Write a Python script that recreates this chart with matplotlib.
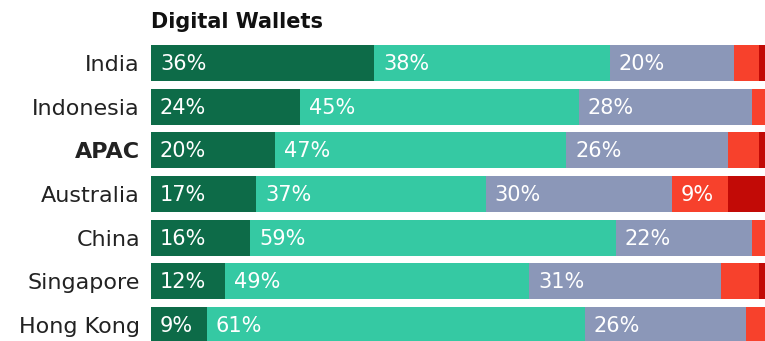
import matplotlib
matplotlib.use("Agg")
import matplotlib.pyplot as plt

categories = ["India", "Indonesia", "APAC", "Australia", "China", "Singapore", "Hong Kong"]
seg1 = [36, 24, 20, 17, 16, 12, 9]
seg2 = [38, 45, 47, 37, 59, 49, 61]
seg3 = [20, 28, 26, 30, 22, 31, 26]
seg4 = [4, 3, 5, 9, 3, 6, 4]
seg5 = [2, 0, 2, 7, 0, 2, 0]
title = "Digital Wallets"

colors = ["#0d6b48", "#35c9a3", "#8b97b8", "#f7412c", "#c20a06"]
series = [seg1, seg2, seg3, seg4, seg5]

W, H = 765, 341
fig = plt.figure(figsize=(W / 100, H / 100), dpi=100)
x0 = 151
pxper = 6.2
top, bot = 41, 341
ax = fig.add_axes([x0 / W, 1 - bot / H, (W - x0) / W, (bot - top) / H])
c0, sp = 63, 43.67
ax.set_xlim(0, (W - x0) / pxper)
ax.set_ylim((bot - c0) / sp, (top - c0) / sp)

ypos = list(range(len(categories)))
left = [0] * len(categories)
for si, (vals, col) in enumerate(zip(series, colors)):
    ax.barh(ypos, vals, left=left, height=0.82, color=col, edgecolor="none")
    for i, v in enumerate(vals):
        show = si < 3 or (si == 3 and v >= 8)
        if show and v > 0:
            ax.text(left[i] + 1.45, i + 0.02, f"{v}%", color="white", fontsize=15,
                    va="center", ha="left", family="DejaVu Sans")
    left = [l + v for l, v in zip(left, vals)]

ax.set_yticks(ypos)
ax.set_yticklabels(categories, fontsize=16)
for lbl in ax.get_yticklabels():
    if lbl.get_text() == "APAC":
        lbl.set_fontweight("bold")
ax.tick_params(axis="y", length=0, pad=8, colors="#222222")
ax.set_xticks([])
for s in ax.spines.values():
    s.set_visible(False)

fig.text(x0 / W, 1 - 22 / H, title, fontsize=15, fontweight="bold",
         ha="left", va="center", color="#111111")

fig.savefig("out.png", dpi=100)
